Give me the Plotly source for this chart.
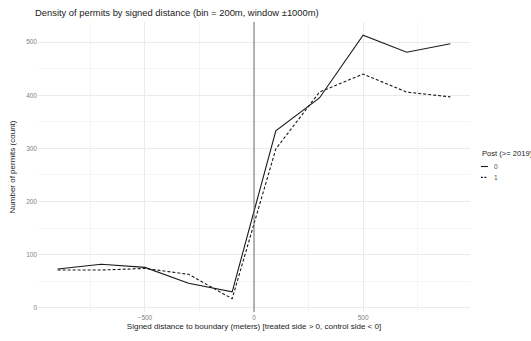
import plotly.graph_objects as go

# Bin centres (signed distance, metres) and permit counts per period
distance = [-900, -700, -500, -300, -100, 100, 300, 500, 700, 900]
count_pre = [73, 82, 76, 46, 30, 333, 395, 513, 481, 497]
count_post = [71, 71, 74, 63, 17, 299, 406, 440, 406, 397]

x_ticks = [-500, 0, 500]
y_ticks = [0, 100, 200, 300, 400, 500]

FONT = "Liberation Sans, Arial, sans-serif"
LINE = "#1a1a1a"
TICK = "#808080"

fig = go.Figure()
fig.add_trace(go.Scatter(x=distance, y=count_pre, mode="lines", name="0",
                         line=dict(color=LINE, width=1.1), showlegend=False))
fig.add_trace(go.Scatter(x=distance, y=count_post, mode="lines", name="1",
                         line=dict(color=LINE, width=1.1, dash="3px,2px"), showlegend=False))

# boundary marker
fig.add_shape(type="line", xref="x", yref="paper", x0=0, x1=0, y0=0, y1=1,
              line=dict(color="#606060", width=0.9), layer="above")

grid_major = "#ebebeb"
grid_minor = "#f5f5f5"

W, H = 531, 341
pl, pr, pt, pb = 35, 61, 22, 26

fig.update_layout(
    width=W, height=H,
    margin=dict(l=pl, r=pr, t=pt, b=pb),
    plot_bgcolor="white", paper_bgcolor="white",
    font=dict(family=FONT, color="#1a1a1a"),
    title=dict(text="Density of permits by signed distance (bin = 200m, window ±1000m)",
               x=35 / W, xanchor="left", y=1 - 13 / H, yanchor="middle",
               font=dict(size=9.4, color="#1a1a1a", family=FONT)),
    xaxis=dict(range=[-990, 990], tickvals=x_ticks, ticks="", showline=False, zeroline=False,
               gridcolor=grid_major, gridwidth=0.8,
               minor=dict(tickvals=[-750, -250, 250, 750], showgrid=True, gridcolor=grid_minor, gridwidth=0.6),
               tickfont=dict(size=6.5, color=TICK),
               title=dict(text="Signed distance to boundary (meters) [treated side > 0, control side < 0]",
                          font=dict(size=8, color="#1a1a1a"), standoff=3)),
    yaxis=dict(range=[-8, 538], tickvals=y_ticks, ticks="", showline=False, zeroline=False,
               gridcolor=grid_major, gridwidth=0.8,
               minor=dict(tickvals=[50, 150, 250, 350, 450], showgrid=True, gridcolor=grid_minor, gridwidth=0.6),
               tickfont=dict(size=6.5, color=TICK),
               title=dict(text="Number of permits (count)", font=dict(size=8, color="#1a1a1a"), standoff=9)),
)

# legend drawn in paper space (paper coords relative to the plot area)
aw, ah = W - pl - pr, H - pt - pb
def ax_x(x):
    return (x - pl) / aw
def ax_y(y):
    return 1 - (y - pt) / ah

fig.add_annotation(xref="paper", yref="paper", x=ax_x(480), y=ax_y(155), text="Post (>= 2019)",
                   showarrow=False, xanchor="left", yanchor="middle",
                   font=dict(size=7.6, color="#1a1a1a", family=FONT))
legend_items = [("0", "solid", 168), ("1", "2px,1.5px", 179)]
for label, dash, yy in legend_items:
    fig.add_shape(type="line", xref="paper", yref="paper", x0=ax_x(481), x1=ax_x(488),
                  y0=ax_y(yy), y1=ax_y(yy), line=dict(color=LINE, width=1.1, dash=dash))
    fig.add_annotation(xref="paper", yref="paper", x=ax_x(492), y=ax_y(yy), text=label,
                       showarrow=False, xanchor="left", yanchor="middle",
                       font=dict(size=6.5, color="#4d4d4d", family=FONT))

fig.write_html("out.html")
